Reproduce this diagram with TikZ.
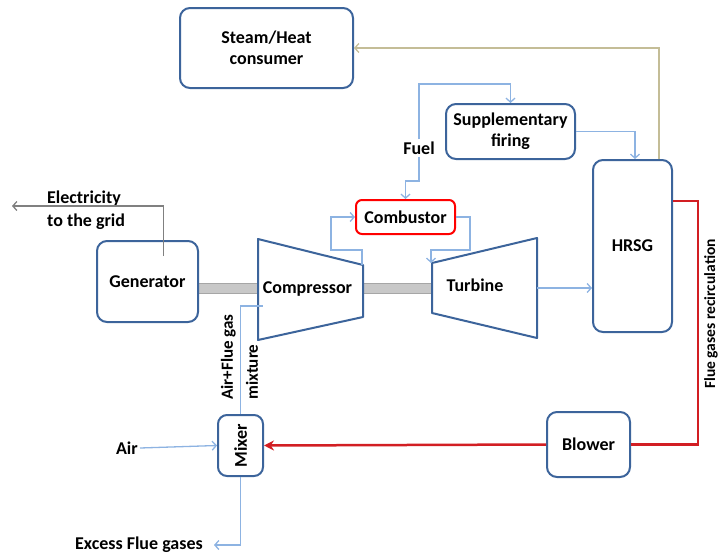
\documentclass[tikz,border=0pt]{standalone}
\usepackage{fontspec}
\setmainfont{Carlito}
\usepackage{tikz}
\usetikzlibrary{arrows.meta, positioning, calc}
\definecolor{boxblue}{RGB}{60,100,155}
\definecolor{flowblue}{RGB}{141,179,226}
\definecolor{recircred}{RGB}{210,30,35}
\definecolor{heatbeige}{RGB}{196,189,151}
\definecolor{shaftgray}{RGB}{200,200,200}
\tikzstyle{unit} = [rectangle, rounded corners=10pt, draw=boxblue, line width=2pt, fill=white, text centered, align=center, font=\fontsize{18}{21}\selectfont\bfseries]
\tikzstyle{label} = [inner sep=2pt, font=\fontsize{18}{23}\selectfont\bfseries]
\tikzstyle{machine} = [draw=boxblue, line width=2pt, fill=white, line join=round]
\tikzstyle{flow} = [draw=flowblue, line width=1.3pt, -{Straight Barb[length=4pt,width=9pt]}]
\tikzstyle{flowline} = [draw=flowblue, line width=1.3pt]
\tikzstyle{heat} = [draw=heatbeige, line width=1.3pt, -{Straight Barb[length=4pt,width=9pt]}]
\tikzstyle{power} = [draw=gray, line width=1.3pt, -{Straight Barb[length=4pt,width=9pt]}]
\tikzstyle{recirc} = [draw=recircred, line width=2.5pt]
\tikzstyle{shaft} = [draw=gray!70, line width=1pt, double=shaftgray, double distance=9pt]

\begin{document}
\begin{tikzpicture}[x=1pt, y=-1pt]

\useasboundingbox (0,0) rectangle (720,557);

% Shafts
\draw [shaft] (198,288.5) -- (259,288.5);
\draw [shaft] (363,288.5) -- (432,288.5);

% Machines
\draw [machine] (258,239) -- (363,265) -- (363,317) -- (258,340) -- cycle;
\draw [machine] (432,263) -- (537,238) -- (537,338) -- (432,313) -- cycle;
\coordinate (compout) at (362,265);
\coordinate (compin) at (263,306);
\coordinate (turbin) at (431,263);
\coordinate (turbout) at (537,288);

% Nodes
\node (steam) [unit, minimum width=173pt, minimum height=80pt] at (266.5,48) {Steam/Heat\\consumer};
\node (supp) [unit, minimum width=129pt, minimum height=55pt] at (510.5,131.5) {Supplementary\\firing};
\node (hrsg) [unit, minimum width=79pt, minimum height=172pt] at (632.5,246) {HRSG};
\node (comb) [unit, draw=red, minimum width=99pt, minimum height=34pt, rounded corners=6pt] at (405.5,217) {Combustor};
\node (gen) [unit, minimum width=101pt, minimum height=81pt] at (147.5,281.5) {Generator};
\node (blower) [unit, minimum width=83pt, minimum height=65pt] at (588.5,444.5) {Blower};
\node (mixer) [unit, minimum width=45pt, minimum height=61pt, rounded corners=9pt] at (240.5,445.5) {\rotatebox{90}{Mixer}};
\node (comptext) [label] at (307.5,289) {Compressor};
\node (turbtext) [label] at (475,285) {Turbine};
\node (fuel) [label] at (419,148) {Fuel};
\node (air) [label, anchor=east] at (140,448) {Air};
\node (excess) [label, anchor=east] at (205,545) {Excess Flue gases};
\node (grid) [label, anchor=west, align=left] at (45,210) {Electricity\\to the grid};
\node (mixture) [label, rotate=90, align=left, font=\fontsize{17}{25}\selectfont\bfseries] at (239.5,357) {Air+Flue gas\\mixture};
\node (recirctext) [label, rotate=90, font=\fontsize{15.5}{18}\selectfont\bfseries] at (711,314) {Flue gases recirculation};
\coordinate (gridend) at (12,206);

% Arrows
\draw [power] ($(gen.north)+(16,16)$) |- (gridend);
\draw [flow] (compout) -- ++(0,-15) -| ($(comb.west)+(-24,0)$) -- (comb.west);
\draw [flow] (comb.east) -- ++(14,0) |- ($(turbin)+(0,-13)$) -- (turbin);
\draw [flow] (fuel.north) |- ($(supp.north)+(0,-19)$) -- (supp.north);
\draw [flow] (fuel.south) |- ($(comb.north)+(0,-18)$) -- (comb.north);
\draw [flow] (supp.east) -| ($(hrsg.north)+(2.5,0)$);
\draw [heat] ($(hrsg.north)+(26.5,0)$) |- (steam.east);
\draw [flow] (turbout) -- (turbout -| hrsg.west);
\draw [recirc] ($(hrsg.east)+(0,-45)$) -- ++(25,0) |- (blower.east);
\draw [recirc, -{Stealth[length=10pt,width=10pt]}] (blower.west) -- (mixer.east);
\draw [flow] (air.east) -- (mixer.west);
\draw [flow] (mixer.south) |- ([xshift=9pt]excess.east);
\draw [flowline] (mixer.north) |- (compin);

\end{tikzpicture}
\end{document}
